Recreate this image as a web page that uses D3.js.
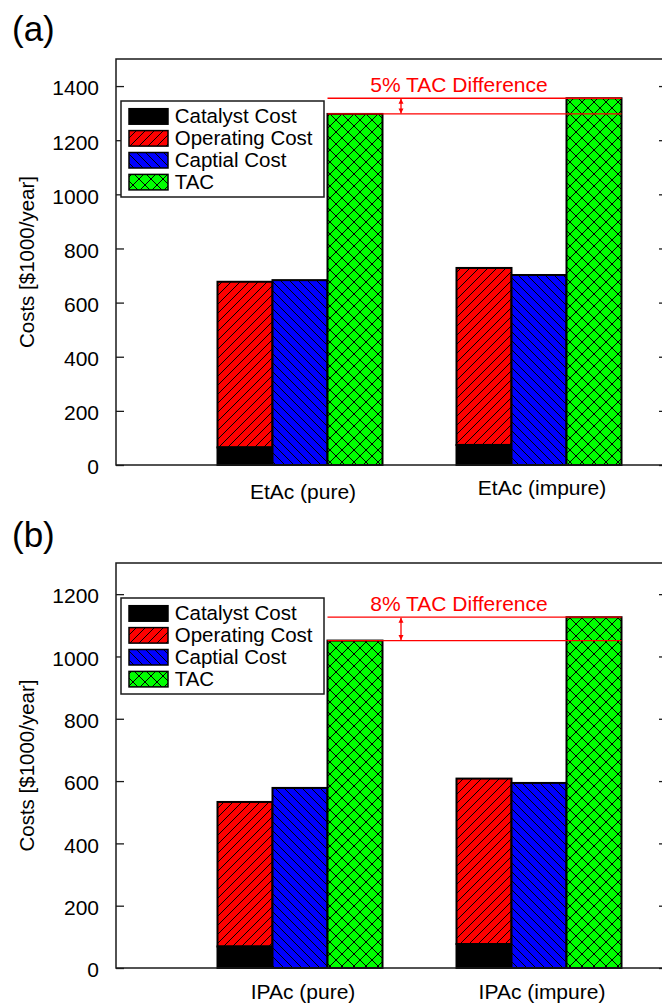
<!DOCTYPE html>
<html>
<head>
<meta charset="utf-8">
<script src="https://cdn.jsdelivr.net/npm/d3@7"></script>
<style>
  html, body { margin: 0; padding: 0; background: #fff; }
  svg { display: block; }
  text { font-family: "Liberation Sans", Arial, Helvetica, sans-serif; fill: #000; }
</style>
</head>
<body>
<svg id="chart" width="662" height="1004"></svg>
<script>
// ---- data: annual costs in $1000/year ----
const categoriesA = ["EtAc (pure)", "EtAc (impure)"];
const catalystA   = [65, 74];
const operatingA  = [612, 654];
const capitalA    = [683, 702];
const tacA        = [1297, 1355];
const ticksA      = [0, 200, 400, 600, 800, 1000, 1200, 1400];

const categoriesB = ["IPAc (pure)", "IPAc (impure)"];
const catalystB   = [69, 77];
const operatingB  = [464, 531];
const capitalB    = [578, 594];
const tacB        = [1051, 1126];
const ticksB      = [0, 200, 400, 600, 800, 1000, 1200];

const legendLabels = ["Catalyst Cost", "Operating Cost", "Captial Cost", "TAC"];
const diffLabels   = ["5% TAC Difference", "8% TAC Difference"];
const panelLabels  = ["(a)", "(b)"];
const yTitle       = "Costs [$1000/year]";

// ---- layout ----
const FONT = 21;
const plotLeft = 116, plotRight = 667;
const panels = [
  { label: panelLabels[0], cats: categoriesA, cat: catalystA, op: operatingA, cap: capitalA, tac: tacA,
    ticks: ticksA, yMax: 1500, top: 59, bottom: 465, labelY: 41, legendTop: 101, diff: diffLabels[0], catDy: [34, 30] },
  { label: panelLabels[1], cats: categoriesB, cat: catalystB, op: operatingB, cap: capitalB, tac: tacB,
    ticks: ticksB, yMax: 1300, top: 563, bottom: 968, labelY: 547, legendTop: 598, diff: diffLabels[1], catDy: [31, 31] }
];

const svg = d3.select("#chart");
const defs = svg.append("defs");

// hatch fills
function hatch(id, color, size, paths) {
  const p = defs.append("pattern").attr("id", id)
    .attr("patternUnits", "userSpaceOnUse").attr("width", size).attr("height", size);
  p.append("rect").attr("width", size).attr("height", size).attr("fill", color);
  p.append("path").attr("d", paths).attr("stroke", "#000").attr("stroke-width", 1).attr("fill", "none");
}
hatch("hRed", "#ff0000", 9, "M-2,2 L2,-2 M0,9 L9,0 M7,11 L11,7");
hatch("hBlue", "#0000ff", 9, "M-2,7 L2,11 M0,0 L9,9 M7,-2 L11,2");
hatch("hGreen", "#00ff00", 12, "M0,0 L12,12 M-2,10 L2,14 M10,-2 L14,2 M0,12 L12,0 M-2,2 L2,-2 M10,14 L14,10");

const fills = ["#000000", "url(#hRed)", "url(#hBlue)", "url(#hGreen)"];

// arrow head for the difference marker
defs.append("marker").attr("id", "arr")
  .attr("viewBox", "0 0 10 10").attr("refX", 10).attr("refY", 5)
  .attr("markerWidth", 5).attr("markerHeight", 6).attr("orient", "auto")
  .attr("markerUnits", "userSpaceOnUse")
  .append("path").attr("d", "M0,0 L10,5 L0,10 Z").attr("fill", "#ff0000");

panels.forEach(P => {
  const g = svg.append("g");
  const y = d3.scaleLinear().domain([0, P.yMax]).range([P.bottom, P.top]);
  const x0 = d3.scaleBand().domain(P.cats).range([180.5, 658.5]);
  const x1 = d3.scaleBand().domain(["op", "cap", "tac"]).range([0, x0.bandwidth()])
    .paddingInner(0).paddingOuter(0.6727);

  // panel label
  g.append("text").attr("x", 12).attr("y", P.labelY).attr("font-size", 35).text(P.label);

  // bars
  const rows = P.cats.map((c, i) => ({ c, cat: P.cat[i], op: P.op[i], cap: P.cap[i], tac: P.tac[i] }));
  const bars = g.append("g").attr("stroke", "#000").attr("stroke-width", 2);
  rows.forEach(r => {
    const gx = x0(r.c);
    // operating cost stacked on catalyst cost
    bars.append("rect").attr("x", gx + x1("op")).attr("width", x1.bandwidth())
      .attr("y", y(r.cat + r.op)).attr("height", y(r.cat) - y(r.cat + r.op)).attr("fill", fills[1]);
    bars.append("rect").attr("x", gx + x1("op")).attr("width", x1.bandwidth())
      .attr("y", y(r.cat)).attr("height", y(0) - y(r.cat)).attr("fill", fills[0]);
    bars.append("rect").attr("x", gx + x1("cap")).attr("width", x1.bandwidth())
      .attr("y", y(r.cap)).attr("height", y(0) - y(r.cap)).attr("fill", fills[2]);
    bars.append("rect").attr("x", gx + x1("tac")).attr("width", x1.bandwidth())
      .attr("y", y(r.tac)).attr("height", y(0) - y(r.tac)).attr("fill", fills[3]);
  });

  // frame and axes
  const axG = g.append("g");
  axG.append("rect").attr("x", plotLeft).attr("y", P.top)
    .attr("width", plotRight - plotLeft).attr("height", P.bottom - P.top)
    .attr("fill", "none").attr("stroke", "#1a1a1a").attr("stroke-width", 1.5);
  const left = axG.append("g").attr("transform", `translate(${plotLeft},0)`)
    .call(d3.axisLeft(y).tickValues(P.ticks).tickSize(-8).tickPadding(17).tickFormat(d3.format("d")));
  left.select(".domain").remove();
  left.selectAll("line").attr("stroke", "#1a1a1a").attr("stroke-width", 1.3);
  left.selectAll("text").attr("font-size", FONT).attr("font-family", "'Liberation Sans', Arial, sans-serif").attr("dy", "0.42em");
  const right = axG.append("g").attr("transform", `translate(${plotRight},0)`)
    .call(d3.axisRight(y).tickValues(P.ticks).tickSize(-8).tickFormat(""));
  right.select(".domain").remove();
  right.selectAll("line").attr("stroke", "#1a1a1a").attr("stroke-width", 1.3);

  // category labels
  P.cats.forEach((c, i) => {
    g.append("text").attr("x", x0(c) + x0.bandwidth() / 2 + 3).attr("y", P.bottom + P.catDy[i])
      .attr("text-anchor", "middle").attr("font-size", FONT).text(c);
  });

  // y title
  g.append("text").attr("transform", `translate(34,${(P.top + P.bottom) / 2}) rotate(-90)`)
    .attr("text-anchor", "middle").attr("font-size", 20.5).text(yTitle);

  // legend
  const lg = g.append("g").attr("transform", `translate(121,${P.legendTop})`);
  lg.append("rect").attr("width", 203).attr("height", 96).attr("fill", "#fff")
    .attr("stroke", "#1a1a1a").attr("stroke-width", 1.5);
  legendLabels.forEach((t, i) => {
    const ry = 7.7 + i * 21.9;
    lg.append("rect").attr("x", 8).attr("y", ry).attr("width", 39).attr("height", 15.5)
      .attr("fill", fills[i]).attr("stroke", "#000").attr("stroke-width", 1.5);
    lg.append("text").attr("x", 53.7).attr("y", ry + 14.2).attr("font-size", 20.5).text(t);
  });

  // TAC difference marker
  const xa = x0(P.cats[0]) + x1("tac");
  const xb = x0(P.cats[1]) + x1("tac") + x1.bandwidth();
  const yHi = y(d3.max(P.tac)), yLo = y(d3.min(P.tac));
  const ann = g.append("g").attr("stroke", "#ff0000").attr("stroke-width", 1.3);
  ann.append("line").attr("x1", xa).attr("x2", xb).attr("y1", yHi).attr("y2", yHi);
  ann.append("line").attr("x1", xa).attr("x2", xb).attr("y1", yLo).attr("y2", yLo);
  const ax = xa + 73.5, ym = (yHi + yLo) / 2;
  ann.append("line").attr("x1", ax).attr("x2", ax).attr("y1", ym).attr("y2", yHi + 0.5)
    .attr("marker-end", "url(#arr)");
  ann.append("line").attr("x1", ax).attr("x2", ax).attr("y1", ym).attr("y2", yLo - 0.5)
    .attr("marker-end", "url(#arr)");
  g.append("text").attr("x", xa + 131.5).attr("y", yHi - 6.5).attr("text-anchor", "middle")
    .attr("font-size", FONT).style("fill", "#ff0000").text(P.diff);
});
</script>
</body>
</html>
